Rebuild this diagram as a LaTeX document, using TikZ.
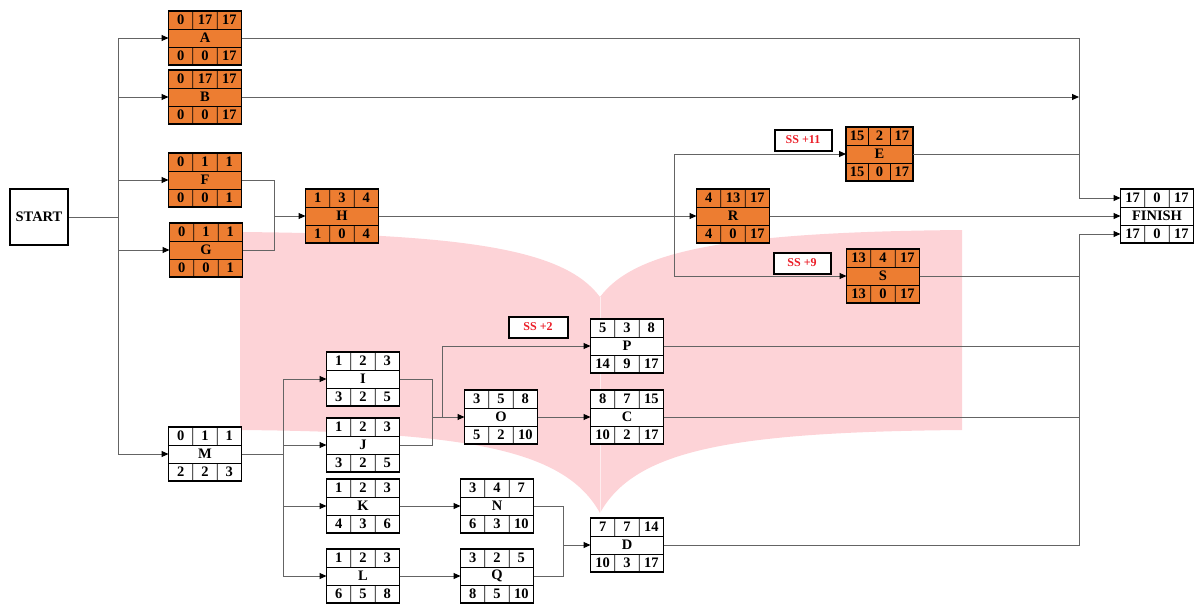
\documentclass[tikz,border=0pt]{standalone}
\usepackage{fontspec}
\setmainfont{Liberation Serif}
\usetikzlibrary{calc,arrows.meta}
\definecolor{boxorange}{RGB}{237,125,49}
\definecolor{bookpink}{RGB}{253,211,215}
\definecolor{linegray}{RGB}{100,100,100}
\definecolor{ssred}{RGB}{235,30,40}
\tikzset{
  conn/.style={draw=linegray, line width=1pt},
  arr/.style={conn, -{Triangle[length=7pt,width=6pt,color=black]}},
  actbox/.style={draw=black, line width=1.3pt, minimum width=73pt, minimum height=54pt, inner sep=0pt, outer sep=0pt},
  orangebox/.style={actbox, fill=boxorange},
  whitebox/.style={actbox, fill=white},
  cellline/.style={draw=black, line width=0.8pt},
  celltext/.style={font=\bfseries\fontsize{14.5}{15}\selectfont, inner sep=0pt},
  sslabel/.style={draw=black, line width=2pt, fill=white, text=ssred, font=\bfseries\fontsize{12}{13}\selectfont, minimum width=57pt, minimum height=21pt, inner sep=0pt},
  startbox/.style={draw=black, line width=1.5pt, fill=white, minimum width=58pt, minimum height=56pt, inner sep=0pt, font=\bfseries\fontsize{14.5}{15}\selectfont}
}
% #1 name, #2 style, #3 centre, #4 top cells, #5 label, #6 bottom cells
\newcommand{\act}[6]{%
  \node[#2] (#1) at (#3) {};
  \coordinate (#1-a) at ($(#1.north west)!1/3!(#1.south west)$);
  \coordinate (#1-b) at ($(#1.north east)!1/3!(#1.south east)$);
  \coordinate (#1-c) at ($(#1.north west)!2/3!(#1.south west)$);
  \coordinate (#1-d) at ($(#1.north east)!2/3!(#1.south east)$);
  \draw[cellline] (#1-a) -- (#1-b) (#1-c) -- (#1-d);
  \draw[cellline] ($(#1.north west)!1/3!(#1.north east)$) -- ($(#1-a)!1/3!(#1-b)$)
                  ($(#1.north west)!2/3!(#1.north east)$) -- ($(#1-a)!2/3!(#1-b)$)
                  ($(#1-c)!1/3!(#1-d)$) -- ($(#1.south west)!1/3!(#1.south east)$)
                  ($(#1-c)!2/3!(#1-d)$) -- ($(#1.south west)!2/3!(#1.south east)$);
  \coordinate (#1-tl) at ($(#1.north west)!1/2!(#1-a)$);
  \coordinate (#1-tr) at ($(#1.north east)!1/2!(#1-b)$);
  \coordinate (#1-bl) at ($(#1.south west)!1/2!(#1-c)$);
  \coordinate (#1-br) at ($(#1.south east)!1/2!(#1-d)$);
  \foreach \v [count=\i] in {#4} {\node[celltext] (#1-t\i) at ($(#1-tl)!{(2*\i-1)/6}!(#1-tr)$) {\v};}
  \foreach \v [count=\i] in {#6} {\node[celltext] (#1-b\i) at ($(#1-bl)!{(2*\i-1)/6}!(#1-br)$) {\v};}
  \node[celltext] (#1-name) at (#1.center) {#5};
}
\begin{document}
\begin{tikzpicture}[x=1pt,y=-1pt]
\useasboundingbox (0,0) rectangle (1196,603);
% book watermark
\fill[bookpink] (240,232) .. controls (470,234) and (565,250) .. (600,297)
  .. controls (635,250) and (730,232) .. (962,230) -- (962,430)
  .. controls (730,432) and (635,450) .. (600,513)
  .. controls (565,450) and (470,432) .. (240,430) -- cycle;
\draw[white, opacity=0.6, line width=0.7pt] (600,297) -- (600,513);

% nodes
\node[startbox] (START) at (39,217) {START};
\act{A}{orangebox}{205,38}{0,17,17}{A}{0,0,17}
\act{B}{orangebox}{205,97}{0,17,17}{B}{0,0,17}
\act{F}{orangebox}{205,180}{0,1,1}{F}{0,0,1}
\act{G}{orangebox}{206,250}{0,1,1}{G}{0,0,1}
\act{H}{orangebox}{342,216}{1,3,4}{H}{1,0,4}
\act{R}{orangebox}{733,216}{4,13,17}{R}{4,0,17}
\act{E}{orangebox,minimum width=67pt}{879.5,154}{15,2,17}{E}{15,0,17}
\act{S}{orangebox}{883,276}{13,4,17}{S}{13,0,17}
\act{FINISH}{whitebox}{1157,216}{17,0,17}{FINISH}{17,0,17}
\act{M}{whitebox}{205,454}{0,1,1}{M}{2,2,3}
\act{I}{whitebox}{363,379}{1,2,3}{I}{3,2,5}
\act{J}{whitebox}{363,445}{1,2,3}{J}{3,2,5}
\act{K}{whitebox}{363,506}{1,2,3}{K}{4,3,6}
\act{L}{whitebox}{363,576}{1,2,3}{L}{6,5,8}
\act{O}{whitebox}{501,417}{3,5,8}{O}{5,2,10}
\act{N}{whitebox}{497,506}{3,4,7}{N}{6,3,10}
\act{Q}{whitebox}{497,576}{3,2,5}{Q}{8,5,10}
\act{P}{whitebox}{627,346}{5,3,8}{P}{14,9,17}
\act{C}{whitebox}{627,417}{8,7,15}{C}{10,2,17}
\act{D}{whitebox}{627,545}{7,7,14}{D}{10,3,17}
\node[sslabel] (ss11) at (803,140) {SS +11};
\node[sslabel] (ss9) at (802,263) {SS +9};
\node[sslabel, minimum width=59pt] (ss2) at (538,327) {SS +2};

% junction coordinates
\coordinate (sbus) at (118,217);
\coordinate (fh) at (274,216);
\coordinate (hr) at (674,216);
\coordinate (vx) at (1079,0);
\coordinate (finTop) at ($(FINISH.north west)+(0,9)$);
\coordinate (finBot) at ($(FINISH.south west)+(0,-9)$);
\coordinate (mb) at (283,454);
\coordinate (ij) at (432,417);
\coordinate (op) at (442,417);
\coordinate (nq) at (563,545);

% connectors
\draw[conn] (START.east) -- (sbus);
\draw[arr] (sbus) |- (A.west);
\draw[arr] (sbus) |- (B.west);
\draw[arr] (sbus) |- (F.west);
\draw[arr] (sbus) |- (G.west);
\draw[arr] (sbus) |- (M.west);
\draw[conn] (F.east) -| (fh);
\draw[conn] (G.east) -| (fh);
\draw[arr] (fh) -- (H.west);
\draw[arr] (H.east) -- (R.west);
\draw[arr] (hr) |- (E.west);
\draw[arr] (hr) |- (S.west);
\draw[arr] (A.east) -| (vx |- finTop) -- (finTop);
\draw[arr] (B.east) -- (vx |- B.east);
\draw[conn] (E.east) -- (vx |- E.east);
\draw[arr] (R.east) -- (FINISH.west);
\draw[arr] (D.east) -| (vx |- finBot) -- (finBot);
\draw[conn] (S.east) -- (vx |- S.east);
\draw[conn] (P.east) -- (vx |- P.east);
\draw[conn] (C.east) -- (vx |- C.east);
\draw[conn] (M.east) -- (mb);
\draw[arr] (mb) |- (I.west);
\draw[arr] (mb) |- (J.west);
\draw[arr] (mb) |- (K.west);
\draw[arr] (mb) |- (L.west);
\draw[conn] (I.east) -| (ij);
\draw[conn] (J.east) -| (ij);
\draw[arr] (ij) -- (O.west);
\draw[arr] (op) |- (P.west);
\draw[arr] (O.east) -- (C.west);
\draw[arr] (K.east) -- (N.west);
\draw[arr] (L.east) -- (Q.west);
\draw[conn] (N.east) -| (nq);
\draw[conn] (Q.east) -| (nq);
\draw[arr] (nq) -- (D.west);
\end{tikzpicture}
\end{document}
